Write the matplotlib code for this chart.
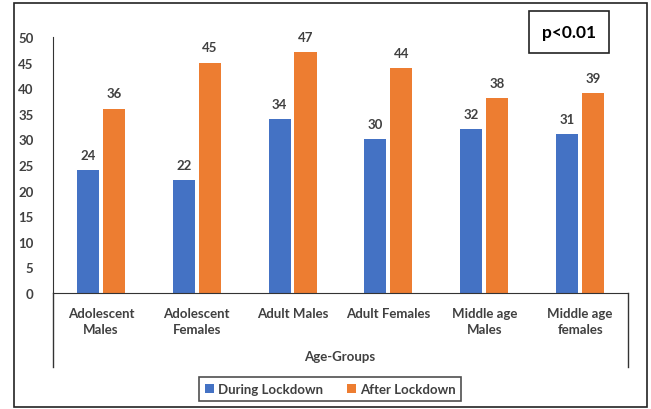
import numpy as np
import matplotlib.pyplot as plt

# datos del grafico
categorias = ['Adolescent\nMales', 'Adolescent\nFemales', 'Adult Males',
              'Adult Females', 'Middle age\nMales', 'Middle age\nfemales']
durante = [24, 22, 34, 30, 32, 31]
despues = [36, 45, 47, 44, 38, 39]
yticks = [0, 5, 10, 15, 20, 25, 30, 35, 40, 45, 50]

azul = '#4472C4'
naranja = '#ED7D31'
gris = '#404040'

plt.rcParams['font.family'] = ['Lato', 'DejaVu Sans']

fig = plt.figure(figsize=(6.51, 4.10), dpi=100)
ax = fig.add_axes([53/651, 116/410, 575/651, 256/410])

x = np.arange(len(categorias))
w = 0.23
b1 = ax.bar(x - 0.135, durante, w, color=azul, label='During Lockdown')
b2 = ax.bar(x + 0.135, despues, w, color=naranja, label='After Lockdown')

for barras in (b1, b2):
    for r in barras:
        ax.text(r.get_x() + r.get_width()/2, r.get_height() + 1.8,
                f'{int(r.get_height())}', ha='center', va='bottom',
                fontsize=9.5, fontweight='bold', color=gris)

ax.set_xlim(-0.5, len(categorias) - 0.5)
ax.set_ylim(0, 50)
ax.set_yticks(yticks)
ax.set_xticks(x)
ax.set_xticklabels(categorias)
ax.tick_params(axis='both', length=0, labelsize=9.5, colors=gris)
ax.tick_params(axis='x', pad=10)
ax.tick_params(axis='y', pad=14)
for lab in ax.get_xticklabels() + ax.get_yticklabels():
    lab.set_fontweight('bold')
    lab.set_linespacing(1.45)

for s in ['top', 'right']:
    ax.spines[s].set_visible(False)
ax.spines['left'].set_color('#333333')
ax.spines['bottom'].set_color('#333333')

# caja del eje multinivel
fig.add_artist(plt.Line2D([53/651, 53/651], [42/410, 116/410], color='#333333', lw=1))
fig.add_artist(plt.Line2D([628/651, 628/651], [42/410, 116/410], color='#333333', lw=1))
fig.text(340/651, 53/410, 'Age-Groups', ha='center', va='center',
         fontsize=9.5, fontweight='bold', color=gris)

# marco exterior
fig.add_artist(plt.Rectangle((14/651, 2/410), 633/651, 404/410, fill=False,
                             ec='#222222', lw=1.2, transform=fig.transFigure))

# caja p<0.01
fig.text(569/651, 377/410, 'p<0.01', ha='center', va='center', fontsize=12.5,
         fontweight='bold', color='black',
         bbox=dict(boxstyle='square,pad=0.75', fc='white', ec='#222222', lw=1.2))

leg = fig.legend(loc='center', bbox_to_anchor=(330/651, 20/410), ncol=2,
                 frameon=True, fancybox=False, edgecolor='#222222',
                 fontsize=9.5, handlelength=0.7, handleheight=0.7,
                 handletextpad=0.3, columnspacing=1.8, borderpad=0.45)
leg.get_frame().set_linewidth(1.2)
for t in leg.get_texts():
    t.set_color(gris)
    t.set_fontweight('bold')

fig.savefig('out.png', dpi=100)
